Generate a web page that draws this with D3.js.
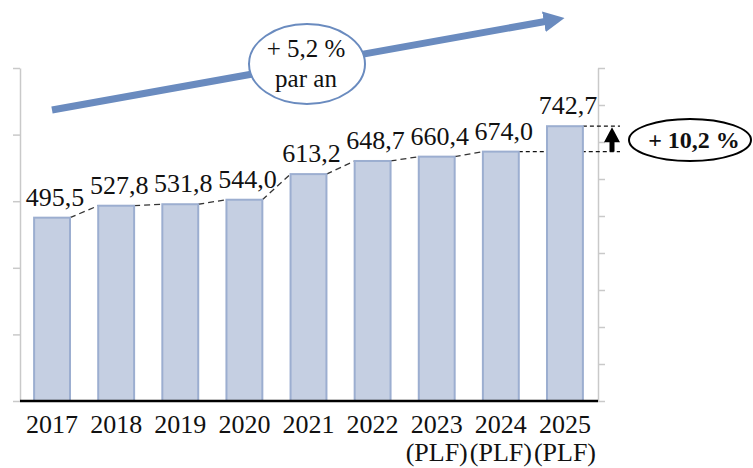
<!DOCTYPE html>
<meta charset="utf-8">
<script src="https://d3js.org/d3.v7.min.js"></script>
<style>
  body { margin: 0; background: #fff; }
  text { font-family: "Liberation Serif", "DejaVu Serif", serif; fill: #111; }
</style>
<body>
<script>

// data
var years = ["2017", "2018", "2019", "2020", "2021", "2022", "2023", "2024", "2025"];
var yearNotes = ["", "", "", "", "", "", "(PLF)", "(PLF)", "(PLF)"];
var values = [495.5, 527.8, 531.8, 544.0, 613.2, 648.7, 660.4, 674.0, 742.7];
var valueLabels = ["495,5", "527,8", "531,8", "544,0", "613,2", "648,7", "660,4", "674,0", "742,7"];
var leftTicks = [0, 180, 360, 540, 720, 900];
var rightTicks = [0, 100, 200, 300, 400, 500, 600, 700, 800, 900];
var trendLabel = ["+ 5,2 %", "par an"];
var lastGrowthLabel = "+ 10,2 %";

var width = 753,
    height = 468;

var svg = d3.select("body").append("svg")
    .attr("width", width)
    .attr("height", height);

var x = d3.scaleBand()
    .domain(years)
    .range([20, 597])
    .paddingInner(0.44)
    .paddingOuter(0.22);

var y = d3.scaleLinear()
    .domain([0, 900])
    .range([401, 68]);

// light grey axes, no labels
svg.append("g")
    .attr("transform", "translate(20,0)")
    .call(d3.axisLeft(y).tickValues(leftTicks).tickFormat("").tickSizeInner(7).tickSizeOuter(0));
svg.append("g")
    .attr("transform", "translate(598,0)")
    .call(d3.axisRight(y).tickValues(rightTicks).tickFormat("").tickSizeInner(7).tickSizeOuter(0));
svg.selectAll(".domain, .tick line")
    .attr("stroke", "#c9c9c9")
    .attr("stroke-width", 1.5);

// dashed lines joining the bar tops (behind the bars)
var n = years.length;
var joins = d3.range(n - 2);
svg.append("g").selectAll("line")
    .data(joins)
    .enter().append("line")
    .attr("x1", function(i) { return x(years[i]) + x.bandwidth(); })
    .attr("y1", function(i) { return y(values[i]); })
    .attr("x2", function(i) { return x(years[i + 1]); })
    .attr("y2", function(i) { return y(values[i + 1]); })
    .attr("stroke", "#333")
    .attr("stroke-width", 1.3)
    .attr("stroke-dasharray", "6,4");

// horizontal dashed guides for the last two years
var guideEnd = 620;
svg.append("g").selectAll("line")
    .data([n - 2, n - 1])
    .enter().append("line")
    .attr("x1", function(i) { return x(years[i]) + x.bandwidth(); })
    .attr("x2", guideEnd)
    .attr("y1", function(i) { return y(values[i]); })
    .attr("y2", function(i) { return y(values[i]); })
    .attr("stroke", "#111")
    .attr("stroke-width", 1.3)
    .attr("stroke-dasharray", "4,3");

// bars
svg.append("g").selectAll("rect")
    .data(values)
    .enter().append("rect")
    .attr("x", function(d, i) { return x(years[i]); })
    .attr("y", function(d) { return y(d); })
    .attr("width", x.bandwidth())
    .attr("height", function(d) { return y(0) - y(d); })
    .attr("fill", "#c5cfe2")
    .attr("stroke", "#9caed0")
    .attr("stroke-width", 2);

// baseline
svg.append("line")
    .attr("x1", 20).attr("x2", 598)
    .attr("y1", y(0)).attr("y2", y(0))
    .attr("stroke", "#000")
    .attr("stroke-width", 2.5);

// value labels
svg.append("g").selectAll("text")
    .data(values)
    .enter().append("text")
    .attr("x", function(d, i) { return x(years[i]) + x.bandwidth() / 2 + 3; })
    .attr("y", function(d) { return y(d) - 12; })
    .attr("text-anchor", "middle")
    .style("font-size", "26px")
    .text(function(d, i) { return valueLabels[i]; });

// year labels
var yl = svg.append("g").selectAll("text")
    .data(years)
    .enter().append("text")
    .attr("x", function(d) { return x(d) + x.bandwidth() / 2; })
    .attr("y", 433)
    .attr("text-anchor", "middle")
    .style("font-size", "26px");
yl.append("tspan").text(function(d) { return d; });
yl.append("tspan")
    .attr("x", function(d) { return x(d) + x.bandwidth() / 2; })
    .attr("dy", 28)
    .text(function(d, i) { return yearNotes[i]; });

// trend arrow with ellipse
var blue = "#6a8bbf";
svg.append("defs").append("marker")
    .attr("id", "bigArrow")
    .attr("viewBox", "0 -5 10 10")
    .attr("refX", 2)
    .attr("refY", 0)
    .attr("markerWidth", 3)
    .attr("markerHeight", 3)
    .attr("orient", "auto")
    .append("path")
    .attr("d", "M0,-5L10,0L0,5Z")
    .attr("fill", blue);

svg.append("line")
    .attr("x1", 52).attr("y1", 110)
    .attr("x2", 548).attr("y2", 21)
    .attr("stroke", blue)
    .attr("stroke-width", 7)
    .attr("marker-end", "url(#bigArrow)");

svg.append("ellipse")
    .attr("cx", 307).attr("cy", 64)
    .attr("rx", 58).attr("ry", 40)
    .attr("fill", "#fff")
    .attr("stroke", blue)
    .attr("stroke-width", 2);

svg.append("g").selectAll("text")
    .data(trendLabel)
    .enter().append("text")
    .attr("x", 306)
    .attr("y", function(d, i) { return 57 + i * 30; })
    .attr("text-anchor", "middle")
    .style("font-size", "25px")
    .text(function(d) { return d; });

// last-year growth: up arrow and ellipse
var ax = 612,
    yLo = y(values[n - 2]),
    yHi = y(values[n - 1]);
svg.append("rect")
    .attr("x", ax - 2.5).attr("y", yHi + 12)
    .attr("width", 5).attr("height", yLo - yHi - 12)
    .attr("fill", "#000");
svg.append("path")
    .attr("d", "M" + ax + "," + (yHi + 1) + "L" + (ax + 8) + "," + (yHi + 16) + "L" + (ax - 8) + "," + (yHi + 16) + "Z")
    .attr("fill", "#000");

svg.append("ellipse")
    .attr("cx", 690).attr("cy", 140)
    .attr("rx", 61).attr("ry", 21)
    .attr("fill", "#fff")
    .attr("stroke", "#000")
    .attr("stroke-width", 2);

svg.append("text")
    .attr("x", 694)
    .attr("y", 148)
    .attr("text-anchor", "middle")
    .style("font-size", "24px")
    .style("font-weight", "bold")
    .text(lastGrowthLabel);

</script>
</body>
